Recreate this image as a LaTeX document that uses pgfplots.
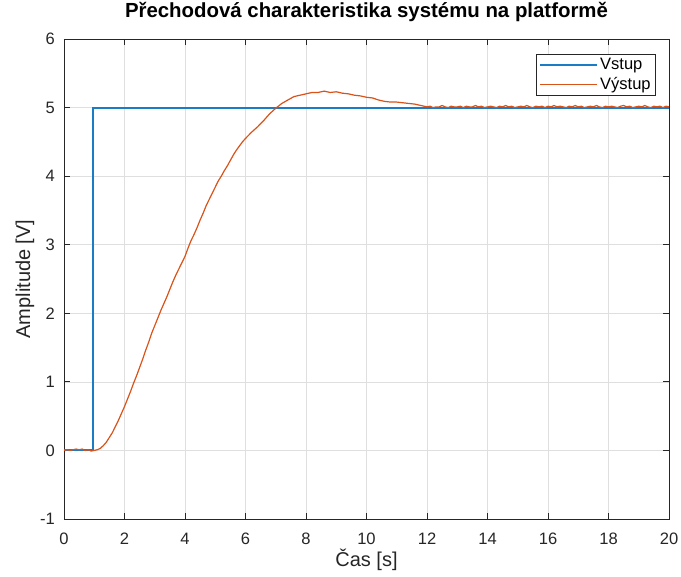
\documentclass[border=0pt]{standalone}
\usepackage{fontspec}
\setmainfont{Liberation Sans}
\usepackage{pgfplots}
\pgfplotsset{compat=1.18}
\definecolor{InColor}{HTML}{1A7CC4}
\definecolor{OutColor}{HTML}{D95319}
\definecolor{AxisColor}{HTML}{262626}
\definecolor{GridColor}{HTML}{DFDFDF}

\begin{document}
\begin{tikzpicture}
    \begin{axis}[
        scale only axis,
        width=453.75pt,
        height=360pt,
        xmin=0, xmax=20,
        ymin=-1, ymax=6,
        xtick={0,2,...,20},
        ytick={-1,0,...,6},
        /pgf/number format/assume math mode=true,
        axis line style={AxisColor, line width=0.6pt},
        tick style={AxisColor, line width=0.6pt},
        major tick length=4.5pt,
        tick align=inside,
        xtick pos=both,
        ytick pos=both,
        grid=major,
        grid style={GridColor, line width=0.5pt},
        ticklabel style={text=AxisColor, font=\fontsize{12.4}{14}\selectfont},
        xticklabel style={anchor=base, inner sep=0pt, yshift=-19.5pt},
        yticklabel style={anchor=east, inner sep=0pt, xshift=-6.75pt},
        title={Přechodová charakteristika systému na platformě},
        title style={font=\bfseries\fontsize{15.3}{18}\selectfont, text=black,
            at={(axis description cs:0.5,1)}, anchor=base, yshift=9.75pt},
        xlabel={Čas [s]},
        ylabel={Amplitude [V]},
        label style={font=\fontsize{15}{18}\selectfont, text=AxisColor},
        xlabel style={at={(axis description cs:0.5,0)}, anchor=base, yshift=-35.8pt},
        ylabel style={at={([xshift=-25.5pt]axis description cs:0,0.5)}, rotate=0, anchor=base},
        legend style={
            draw=AxisColor,
            line width=0.5pt,
            fill=white,
            text=black,
            font=\fontsize{12.4}{14}\selectfont,
            at={(axis description cs:0.978,0.969)},
            anchor=north east,
            inner xsep=2pt,
            inner ysep=1.5pt,
            row sep=1.5pt,
            nodes={inner xsep=1.5pt, inner ysep=1.5pt}
        },
        legend cell align=left,
        legend image code/.code={\draw[#1] (0pt,0pt) -- (42.75pt,0pt);}
    ]

    % vstupni skok
    \addplot[color=InColor, line width=1.5pt, line join=miter] table {
        t    u
        0.00 0
        0.97 0
        0.97 5
        5.00 5
        10.0 5
        15.0 5
        20.0 5
    };
    \addlegendentry{Vstup}

    % odezva systemu
    \addplot[color=OutColor, line width=0.9pt] table {
        t    y
        0.0  0.00
        0.1  0.01
        0.2  0.00
        0.3  0.01
        0.4  0.02
        0.5  0.01
        0.6  0.02
        0.7  0.00
        0.8  0.01
        0.9  -0.01
        1.0  0.00
        1.1  0.01
        1.2  0.03
        1.3  0.07
        1.4  0.12
        1.5  0.19
        1.6  0.26
        1.7  0.35
        1.8  0.44
        1.9  0.54
        2.0  0.64
        2.1  0.75
        2.2  0.86
        2.3  0.98
        2.4  1.09
        2.5  1.21
        2.6  1.33
        2.7  1.46
        2.8  1.58
        2.9  1.71
        3.0  1.82
        3.1  1.93
        3.2  2.04
        3.3  2.14
        3.4  2.24
        3.5  2.35
        3.6  2.46
        3.7  2.56
        3.8  2.65
        3.9  2.74
        4.0  2.83
        4.1  2.95
        4.2  3.06
        4.3  3.15
        4.4  3.25
        4.5  3.36
        4.6  3.46
        4.7  3.57
        4.8  3.66
        4.9  3.75
        5.0  3.84
        5.1  3.93
        5.2  4.00
        5.3  4.08
        5.4  4.15
        5.5  4.23
        5.6  4.31
        5.7  4.38
        5.8  4.44
        5.9  4.50
        6.0  4.55
        6.2  4.64
        6.4  4.72
        6.6  4.81
        6.8  4.91
        7.0  4.99
        7.2  5.06
        7.4  5.11
        7.6  5.16
        7.8  5.18
        8.0  5.20
        8.2  5.22
        8.4  5.22
        8.6  5.24
        8.8  5.22
        9.0  5.23
        9.2  5.21
        9.4  5.20
        9.6  5.18
        9.8  5.17
        10.0 5.15
        10.2 5.14
        10.4 5.11
        10.6 5.09
        10.8 5.08
        11.0 5.08
        11.2 5.07
        11.4 5.06
        11.6 5.05
        11.8 5.03
        12.0 5.01
        12.1 5.02
        12.2 5.00
        12.3 5.01
        12.4 5.01
        12.5 5.03
        12.6 5.01
        12.7 5.00
        12.8 5.02
        12.9 5.01
        13.0 5.01
        13.1 5.02
        13.2 5.00
        13.3 5.02
        13.4 5.01
        13.5 5.01
        13.6 5.03
        13.7 5.01
        13.8 5.02
        13.9 5.00
        14.0 5.01
        14.1 5.02
        14.2 5.01
        14.3 5.00
        14.4 5.02
        14.5 5.01
        14.6 5.03
        14.7 5.01
        14.8 5.02
        14.9 5.00
        15.0 5.01
        15.1 5.02
        15.2 5.01
        15.3 5.03
        15.4 5.01
        15.5 5.00
        15.6 5.02
        15.7 5.01
        15.8 5.02
        15.9 5.00
        16.0 5.02
        16.1 5.01
        16.2 5.03
        16.3 5.01
        16.4 5.02
        16.5 5.01
        16.6 5.00
        16.7 5.02
        16.8 5.01
        16.9 5.03
        17.0 5.01
        17.1 5.02
        17.2 5.00
        17.3 5.01
        17.4 5.02
        17.5 5.01
        17.6 5.03
        17.7 5.01
        17.8 5.00
        17.9 5.02
        18.0 5.01
        18.1 5.02
        18.2 5.01
        18.3 5.00
        18.4 5.02
        18.5 5.03
        18.6 5.01
        18.7 5.02
        18.8 5.00
        18.9 5.01
        19.0 5.02
        19.1 5.01
        19.2 5.03
        19.3 5.01
        19.4 5.00
        19.5 5.02
        19.6 5.01
        19.7 5.02
        19.8 5.00
        19.9 5.02
        20.0 5.01
    };
    \addlegendentry{Výstup}

    \end{axis}
    \pgfresetboundingbox
    \path[use as bounding box] (-48pt,-43.5pt) rectangle (462.75pt,389.25pt);
\end{tikzpicture}
\end{document}
